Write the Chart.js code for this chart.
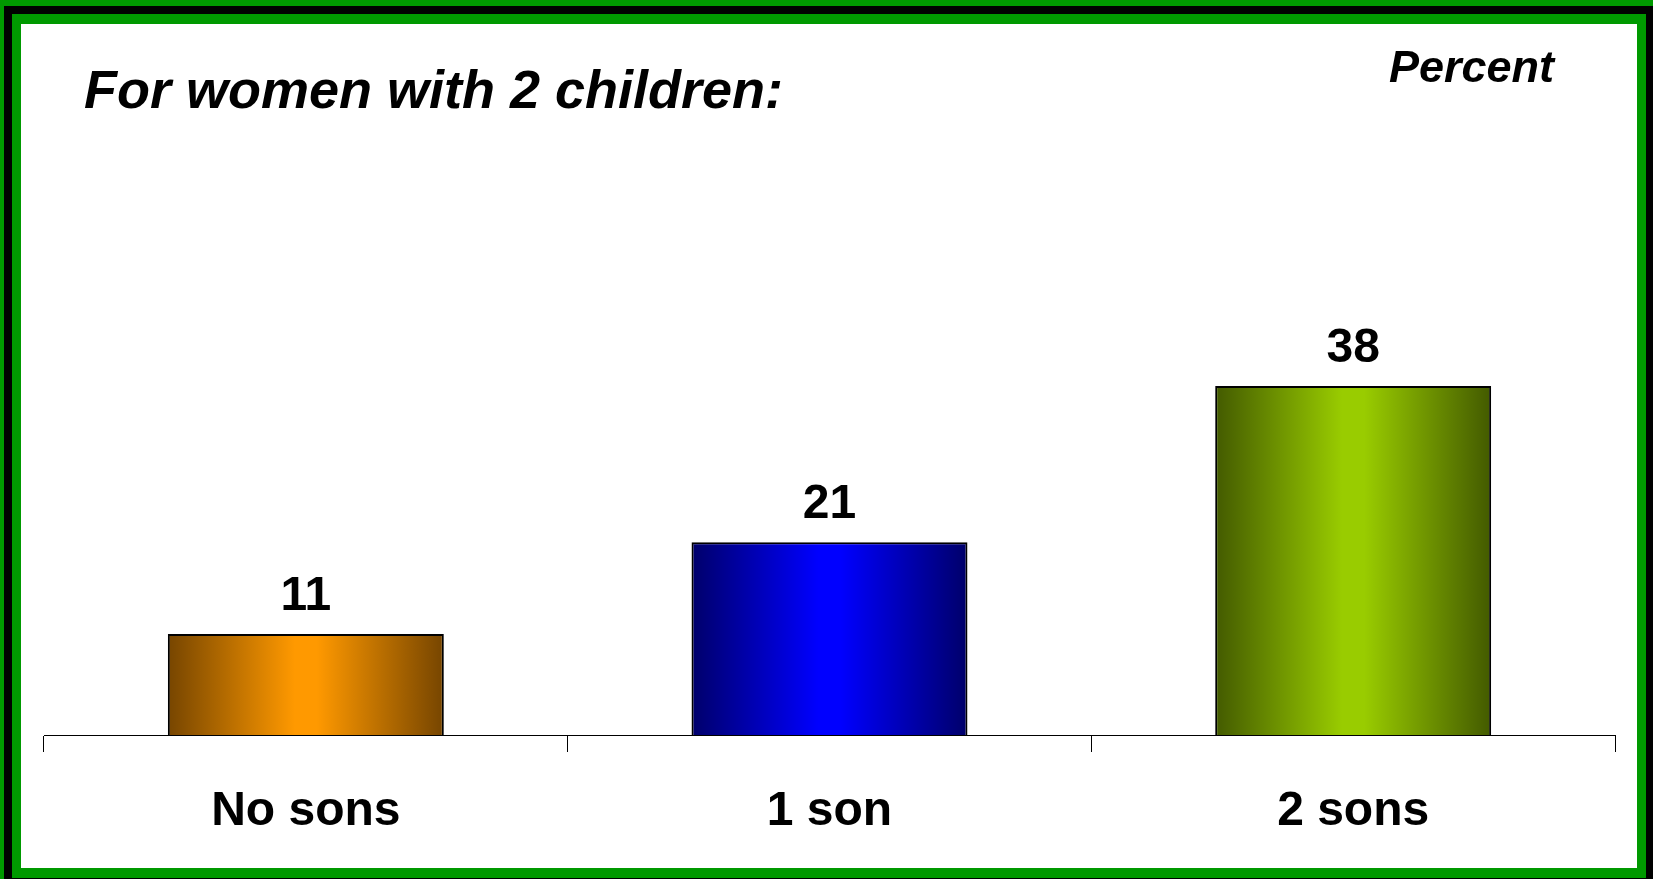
<!DOCTYPE html>
<html>
<head>
<meta charset="utf-8">
<script src="https://cdn.jsdelivr.net/npm/chart.js@4.4.1/dist/chart.umd.min.js"></script>
<style>
  html, body { margin: 0; padding: 0; }
  body { width: 1653px; height: 879px; background: #009900; position: relative; overflow: hidden; font-family: "Liberation Sans", Arial, sans-serif; }
  .frame { position: absolute; left: 4px; top: 6px; width: 1650px; height: 880px; box-sizing: border-box; border: 8px solid #000; background: #009900; }
  .paper { position: absolute; left: 21px; top: 24px; width: 1616px; height: 844px; background: #fff; }
  #chart { position: absolute; left: 21px; top: 24px; }
  .title { position: absolute; left: 84px; top: 62px; font: italic bold 54px/1 "Liberation Sans", Arial, sans-serif; color: #000; white-space: nowrap; }
  .unit { position: absolute; left: 1389px; top: 44px; font: italic bold 45px/1 "Liberation Sans", Arial, sans-serif; color: #000; white-space: nowrap; }
</style>
</head>
<body>
<div class="frame"></div>
<div class="paper"></div>
<canvas id="chart" width="1616" height="844"></canvas>
<div class="title">For women with 2 children:</div>
<div class="unit">Percent</div>
<script>
  const categories = ['No sons', '1 son', '2 sons'];
  const percents = [11, 21, 38];

  // edge / centre colours for each bar's shading
  const edgeColors = ['#764500', '#00006a', '#435a00'];
  const midColors = ['#ff9900', '#0000ff', '#99cc00'];

  const barPct = 0.527;

  function barFill(c) {
    const chart = c.chart;
    const xs = chart.scales.x;
    const i = c.dataIndex;
    if (!xs || !chart.chartArea || xs.width === 0) return midColors[i];
    const cx = xs.getPixelForValue(i);
    const half = xs.width / categories.length * barPct / 2;
    const g = chart.ctx.createLinearGradient(cx - half, 0, cx + half, 0);
    g.addColorStop(0, edgeColors[i]);
    g.addColorStop(0.46, midColors[i]);
    g.addColorStop(0.54, midColors[i]);
    g.addColorStop(1, edgeColors[i]);
    return g;
  }

  const valueLabels = {
    id: 'valueLabels',
    afterDatasetsDraw(chart) {
      const ctx = chart.ctx;
      const meta = chart.getDatasetMeta(0);
      ctx.save();
      ctx.font = 'bold 48px "Liberation Sans", Arial, sans-serif';
      ctx.fillStyle = '#000';
      ctx.textAlign = 'center';
      ctx.textBaseline = 'alphabetic';
      meta.data.forEach(function(bar, i) {
        ctx.fillText(String(percents[i]), bar.x, bar.y - 24);
      });
      ctx.restore();
    }
  };

  const ctx = document.getElementById('chart');

  new Chart(ctx, {
    type: 'bar',
    data: {
      labels: categories,
      datasets: [{
        data: percents,
        backgroundColor: barFill,
        borderColor: '#000',
        borderWidth: 2,
        barPercentage: barPct,
        categoryPercentage: 1
      }]
    },
    options: {
      responsive: false,
      animation: false,
      layout: { padding: { left: 23, right: 22, top: 160, bottom: 0 } },
      plugins: {
        legend: { display: false },
        tooltip: { enabled: false }
      },
      scales: {
        x: {
          afterFit: function(scale) { scale.height = 133; },
          grid: {
            display: true,
            offset: true,
            drawOnChartArea: false,
            drawTicks: true,
            tickLength: 17,
            color: '#000',
            lineWidth: 1
          },
          border: { display: true, color: '#000', width: 1 },
          ticks: {
            color: '#000',
            padding: 31,
            font: { family: '"Liberation Sans", Arial, sans-serif', size: 48, weight: 'bold' }
          }
        },
        y: {
          display: false,
          min: 0,
          max: 60
        }
      }
    },
    plugins: [valueLabels]
  });
</script>
</body>
</html>
